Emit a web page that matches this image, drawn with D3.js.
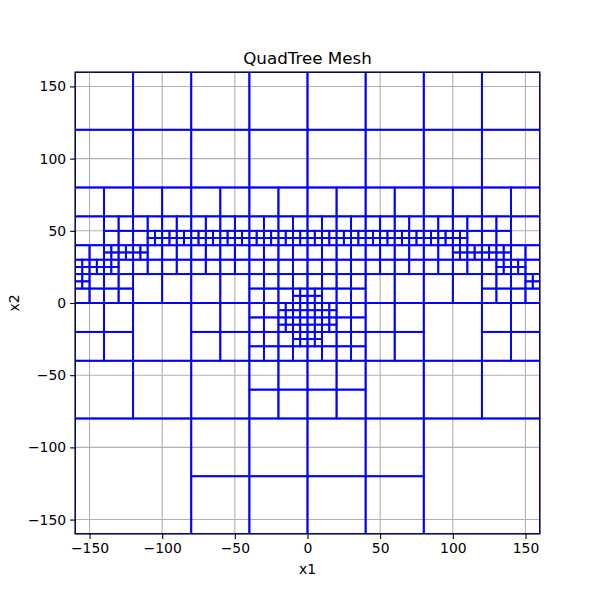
<!DOCTYPE html>
<html>
<head>
<meta charset="utf-8">
<script src="https://cdn.jsdelivr.net/npm/d3@7"></script>
<style>
  body { margin: 0; background: #fff; }
  text { font-family: "DejaVu Sans", sans-serif; }
</style>
</head>
<body>
<div class="chart"></div>
<script>
var width = 600;
var height = 600;

// axis ranges and ticks
var xDomain = [-160, 160];
var yDomain = [-160, 160];
var xTicks = [-150, -100, -50, 0, 50, 100, 150];
var yTicks = [-150, -100, -50, 0, 50, 100, 150];

// mesh root cell: lower-left corner and size
var rootCell = [-160, -160, 320];

// lower-left corners of the cells that are split into four, by cell size
var split320 = [[-160, -160]];
var split160 = [[-160, -160], [0, -160], [-160, 0], [0, 0]];
var split80 = [
  [-160, -80], [-80, -80], [0, -80], [80, -80],
  [-80, -160], [0, -160],
  [-160, 0], [-80, 0], [0, 0], [80, 0],
  [-160, 80], [-80, 80], [0, 80], [80, 80]
];
var split40 = [
  [-160, 40], [-120, 40], [-80, 40], [-40, 40], [0, 40], [40, 40], [80, 40], [120, 40],
  [-160, 0], [-120, 0], [-80, 0], [-40, 0], [0, 0], [40, 0], [80, 0], [120, 0],
  [-160, -40], [-80, -40], [-40, -40], [0, -40], [40, -40], [120, -40],
  [-40, -80], [0, -80]
];
var split20 = [
  [-140, 40], [-120, 40], [-100, 40], [-80, 40], [-60, 40], [-40, 40], [-20, 40],
  [0, 40], [20, 40], [40, 40], [60, 40], [80, 40], [100, 40], [120, 40],
  [-160, 20], [-140, 20], [-120, 20], [-100, 20], [-80, 20], [-60, 20], [-40, 20], [-20, 20],
  [0, 20], [20, 20], [40, 20], [60, 20], [80, 20], [100, 20], [120, 20], [140, 20],
  [-160, 0], [-140, 0], [-40, 0], [-20, 0], [0, 0], [20, 0], [120, 0], [140, 0],
  [-40, -20], [-20, -20], [0, -20], [20, -20],
  [-40, -40], [-20, -40], [0, -40], [20, -40]
];
var split10 = [
  [-110, 40], [-100, 40], [-90, 40], [-80, 40], [-70, 40], [-60, 40], [-50, 40], [-40, 40],
  [-30, 40], [-20, 40], [-10, 40], [0, 40], [10, 40], [20, 40], [30, 40], [40, 40],
  [50, 40], [60, 40], [70, 40], [80, 40], [90, 40], [100, 40],
  [-140, 30], [-130, 30], [-120, 30], [100, 30], [110, 30], [120, 30], [130, 30],
  [-160, 20], [-150, 20], [-140, 20], [130, 20], [140, 20],
  [-160, 10], [150, 10],
  [-10, 0], [0, 0],
  [-20, -10], [-10, -10], [0, -10], [10, -10],
  [-20, -20], [-10, -20], [0, -20], [10, -20],
  [-10, -30], [0, -30]
];

var splitBySize = {
  320: split320, 160: split160, 80: split80, 40: split40, 20: split20, 10: split10
};
var splitKeys = {};
Object.keys(splitBySize).forEach(function(s) {
  splitKeys[s] = new Set(splitBySize[s].map(function(c) { return c[0] + "," + c[1]; }));
});

function collectLeaves(cx, cy, s, out) {
  if (splitKeys[s] && splitKeys[s].has(cx + "," + cy)) {
    var h = s / 2;
    collectLeaves(cx, cy, h, out);
    collectLeaves(cx + h, cy, h, out);
    collectLeaves(cx, cy + h, h, out);
    collectLeaves(cx + h, cy + h, h, out);
  } else {
    out.push({ x: cx, y: cy, s: s });
  }
}
var cells = [];
collectLeaves(rootCell[0], rootCell[1], rootCell[2], cells);

// plot area (matplotlib default subplot box)
var plotLeft = 75, plotRight = 540, plotTop = 72, plotBottom = 534;

var xScale = d3.scaleLinear().domain(xDomain).range([plotLeft, plotRight]);
var yScale = d3.scaleLinear().domain(yDomain).range([plotBottom, plotTop]);

var svg = d3.select(".chart")
  .append("svg")
  .attr("width", width)
  .attr("height", height);

svg.append("clipPath")
  .attr("id", "plotclip")
  .append("rect")
  .attr("x", plotLeft)
  .attr("y", plotTop)
  .attr("width", plotRight - plotLeft)
  .attr("height", plotBottom - plotTop);

// grid lines
var grid = svg.append("g").attr("clip-path", "url(#plotclip)");
grid.selectAll(".gx")
  .data(xTicks)
  .enter()
  .append("line")
  .attr("class", "gx")
  .attr("x1", function(d) { return xScale(d); })
  .attr("x2", function(d) { return xScale(d); })
  .attr("y1", plotTop)
  .attr("y2", plotBottom)
  .attr("stroke", "#b0b0b0")
  .attr("stroke-width", 1.1);
grid.selectAll(".gy")
  .data(yTicks)
  .enter()
  .append("line")
  .attr("class", "gy")
  .attr("y1", function(d) { return yScale(d); })
  .attr("y2", function(d) { return yScale(d); })
  .attr("x1", plotLeft)
  .attr("x2", plotRight)
  .attr("stroke", "#b0b0b0")
  .attr("stroke-width", 1.1);

// mesh cells
var mesh = svg.append("g").attr("clip-path", "url(#plotclip)");
mesh.selectAll("rect")
  .data(cells)
  .enter()
  .append("rect")
  .attr("x", function(d) { return xScale(d.x); })
  .attr("y", function(d) { return yScale(d.y + d.s); })
  .attr("width", function(d) { return xScale(d.x + d.s) - xScale(d.x); })
  .attr("height", function(d) { return yScale(d.y) - yScale(d.y + d.s); })
  .attr("fill", "none")
  .attr("stroke", "#0000ff")
  .attr("stroke-width", 1.8);

// axes
var fmt = function(d) { return d < 0 ? "\u2212" + Math.abs(d) : String(d); };

var xAxis = svg.append("g")
  .attr("transform", "translate(0," + plotBottom + ")")
  .call(d3.axisBottom(xScale).tickValues(xTicks).tickFormat(fmt).tickSize(4.9).tickPadding(4));
var yAxis = svg.append("g")
  .attr("transform", "translate(" + plotLeft + ",0)")
  .call(d3.axisLeft(yScale).tickValues(yTicks).tickFormat(fmt).tickSize(4.9).tickPadding(4));

[xAxis, yAxis].forEach(function(a) {
  a.select(".domain").remove();
  a.selectAll("line").attr("stroke", "#000").attr("stroke-width", 1.1);
  a.selectAll("text")
    .attr("fill", "#000")
    .style("font-family", "DejaVu Sans")
    .style("font-size", "13.9px");
});

// frame
svg.append("rect")
  .attr("x", plotLeft)
  .attr("y", plotTop)
  .attr("width", plotRight - plotLeft)
  .attr("height", plotBottom - plotTop)
  .attr("fill", "none")
  .attr("stroke", "#000")
  .attr("stroke-width", 1.1);

svg.append("text")
  .attr("x", (plotLeft + plotRight) / 2)
  .attr("y", 64)
  .attr("text-anchor", "middle")
  .style("font-size", "16.7px")
  .text("QuadTree Mesh");

svg.append("text")
  .attr("x", (plotLeft + plotRight) / 2)
  .attr("y", 574)
  .attr("text-anchor", "middle")
  .style("font-size", "13.9px")
  .text("x1");

svg.append("text")
  .attr("transform", "translate(19," + (plotTop + plotBottom) / 2 + ") rotate(-90)")
  .attr("text-anchor", "middle")
  .style("font-size", "13.9px")
  .text("x2");
</script>
</body>
</html>
